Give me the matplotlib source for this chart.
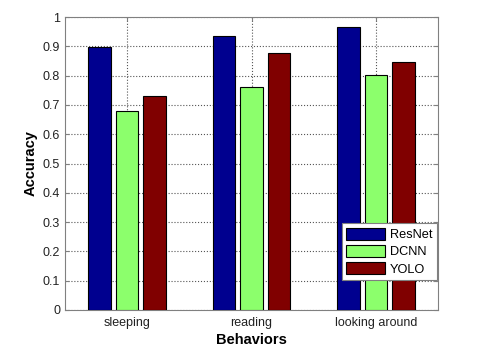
import matplotlib
matplotlib.use("Agg")
import matplotlib.pyplot as plt
import numpy as np

BEHAVIORS = ["sleeping", "reading", "looking around"]
MODELS = ["ResNet", "DCNN", "YOLO"]
RESNET = [0.898, 0.935, 0.967]
DCNN = [0.680, 0.760, 0.803]
YOLO = [0.731, 0.877, 0.845]
COLORS = ["#00008F", "#8CFF6C", "#800000"]

plt.rcParams["font.family"] = ["Liberation Sans", "DejaVu Sans"]

fig = plt.figure(figsize=(4.94, 3.55), dpi=100)
ax = fig.add_axes([65 / 494, 1 - 310 / 355, (438 - 65) / 494, (310 - 17) / 355])

x = np.arange(1, len(BEHAVIORS) + 1)
w, off = 0.182, 0.22
for i, (vals, name, c) in enumerate(zip([RESNET, DCNN, YOLO], MODELS, COLORS)):
    ax.bar(x + (i - 1) * off, vals, w, color=c, edgecolor="black", linewidth=0.8,
           label=name, zorder=3)

ax.set_xlim(0.5, 3.5)
ax.set_ylim(0, 1)
ax.set_xticks(x, BEHAVIORS)
ax.set_yticks(np.arange(0, 1.01, 0.1), ["0"] + [f"{v:.1f}" for v in np.arange(0.1, 0.95, 0.1)] + ["1"])
ax.grid(True, ls=":", color="#555555", lw=0.8, zorder=0)
ax.tick_params(direction="in", top=True, right=True, labelsize=9, colors="#808080",
               labelcolor="#222222", length=3)
ax.tick_params(axis="x", pad=5)
for s in ax.spines.values():
    s.set_color("#808080")
ax.set_xlabel("Behaviors", fontsize=10.5, fontweight="bold", labelpad=3)
ax.set_ylabel("Accuracy", fontsize=10.5, fontweight="bold", labelpad=4)

leg = ax.legend(loc="lower right", bbox_to_anchor=(0.997, 0.102), borderaxespad=0,
                fontsize=9.2, fancybox=False, framealpha=1, edgecolor="#808080",
                handlelength=3.0, handleheight=1.1, labelspacing=0.3, borderpad=0.35,
                handletextpad=0.4)
leg.get_frame().set_linewidth(0.8)

fig.savefig("out.png", dpi=100)
